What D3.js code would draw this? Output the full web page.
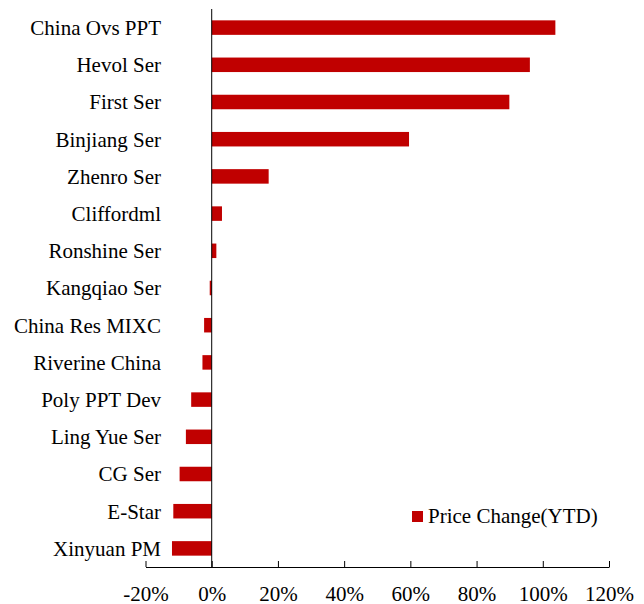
<!DOCTYPE html>
<html>
<head>
<meta charset="utf-8">
<script src="https://cdn.jsdelivr.net/npm/d3@7"></script>
<style>
  body { margin: 0; background: #fff; }
  text { font-family: "Liberation Serif", "Times New Roman", serif; }
</style>
</head>
<body>
<div id="chart"></div>
<script>
const companies = ["China Ovs PPT", "Hevol Ser", "First Ser", "Binjiang Ser", "Zhenro Ser",
  "Cliffordml", "Ronshine Ser", "Kangqiao Ser", "China Res MIXC", "Riverine China",
  "Poly PPT Dev", "Ling Yue Ser", "CG Ser", "E-Star", "Xinyuan PM"];
const priceChange = [103.8, 96.1, 89.9, 59.6, 17.2, 3.1, 1.4, -0.6, -2.3, -2.8,
  -6.2, -7.8, -9.7, -11.6, -12.0];
const xTicks = [-20, 0, 20, 40, 60, 80, 100, 120];
const seriesName = "Price Change(YTD)";

const width = 644, height = 604;
const margin = { top: 9, right: 35, bottom: 37, left: 145.5 };
const innerWidth = width - margin.left - margin.right;
const innerHeight = height - margin.top - margin.bottom;
const fontSize = 21;

const data = companies.map((c, i) => ({ name: c, value: priceChange[i] }));

const svg = d3.select("#chart").append("svg")
  .attr("width", width)
  .attr("height", height);

const innerChart = svg.append("g")
  .attr("transform", `translate(${margin.left}, ${margin.top})`);

const xScale = d3.scaleLinear()
  .domain([-20, 120])
  .range([0, innerWidth]);

const yScale = d3.scaleBand()
  .domain(companies)
  .range([0, innerHeight])
  .paddingInner(0.61)
  .paddingOuter(0.305);

innerChart.selectAll(".bar")
  .data(data)
  .join("rect")
    .attr("class", "bar")
    .attr("x", d => xScale(Math.min(0, d.value)))
    .attr("y", d => yScale(d.name))
    .attr("width", d => Math.abs(xScale(d.value) - xScale(0)))
    .attr("height", yScale.bandwidth())
    .attr("fill", "#C00000");

// x axis
const xAxis = innerChart.append("g")
  .attr("transform", `translate(0, ${innerHeight})`)
  .call(d3.axisBottom(xScale)
    .tickValues(xTicks)
    .tickSize(-6)
    .tickSizeOuter(0)
    .tickFormat(d => d + "%"));
xAxis.select(".domain").attr("stroke", "#000");
xAxis.selectAll(".tick line").attr("stroke", "#000");
xAxis.selectAll(".tick text")
  .attr("y", 19)
  .attr("dy", "0.71em")
  .attr("font-size", fontSize)
  .attr("font-family", "Liberation Serif, serif")
  .attr("fill", "#000");

// zero line / category axis
innerChart.append("line")
  .attr("x1", xScale(0)).attr("x2", xScale(0))
  .attr("y1", 0).attr("y2", innerHeight)
  .attr("stroke", "#000");

innerChart.selectAll(".cat-label")
  .data(companies)
  .join("text")
    .attr("class", "cat-label")
    .attr("x", -(margin.left - 161))
    .attr("y", d => yScale(d) + yScale.bandwidth() / 2)
    .attr("dy", "0.35em")
    .attr("text-anchor", "end")
    .attr("font-size", fontSize)
    .attr("fill", "#000")
    .text(d => d);

// legend
const legend = svg.append("g")
  .attr("transform", "translate(412, 511)");
legend.append("rect")
  .attr("width", 11).attr("height", 11)
  .attr("fill", "#C00000");
legend.append("text")
  .attr("x", 16)
  .attr("y", 12.3)
  .attr("font-size", fontSize)
  .attr("fill", "#000")
  .text(seriesName);
</script>
</body>
</html>
